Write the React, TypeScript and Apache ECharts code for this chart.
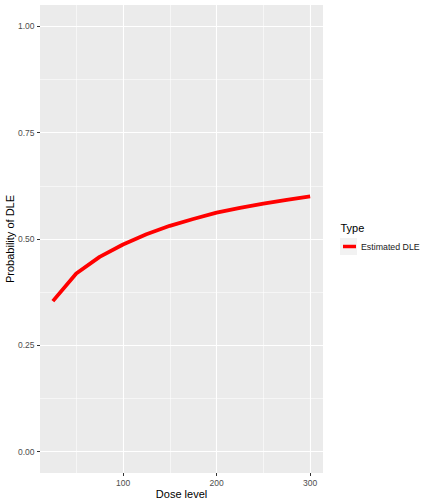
import React, { useEffect, useRef } from 'react';
import * as echarts from 'echarts';

const doses = [25, 50, 75, 100, 125, 150, 175, 200, 225, 250, 275, 300];
const estimatedDLE = [0.354, 0.419, 0.458, 0.487, 0.511, 0.531, 0.547, 0.562, 0.573, 0.583, 0.592, 0.6];
const xMajorTicks = [100, 200, 300];
const xMinorTicks = [50, 150, 250];
const yMajorTicks = [0, 0.25, 0.5, 0.75, 1];
const yMinorTicks = [0.125, 0.375, 0.625, 0.875];

const FONT = '"Liberation Sans", Arial, Helvetica, sans-serif';

const App: React.FC = () => {
  const chartRef = useRef<HTMLDivElement>(null);

  useEffect(() => {
    if (!chartRef.current) return;
    const chart = echarts.init(chartRef.current, null, { renderer: 'svg' });

    // ggplot-style expansion: 5% either side of the data range
    const xSpan = doses[doses.length - 1] - doses[0];
    const xMin = doses[0] - xSpan * 0.05;
    const xMax = doses[doses.length - 1] + xSpan * 0.05;

    const option: echarts.EChartsOption = {
      animation: false,
      textStyle: { fontFamily: FONT },
      grid: {
        left: 40,
        right: 109,
        top: 5,
        bottom: 31,
        show: true,
        backgroundColor: '#EBEBEB',
        borderWidth: 0,
        containLabel: false,
        outerBoundsMode: 'none',
      } as any,
      xAxis: [
        {
          type: 'value',
          min: xMin,
          max: xMax,
          name: 'Dose level',
          nameLocation: 'middle',
          nameGap: 15,
          nameMoveOverlap: false,
          nameTextStyle: { fontSize: 11, color: '#000', fontFamily: FONT },
          axisLine: { show: false, onZero: false },
          axisTick: { show: true, length: 3, customValues: xMajorTicks, lineStyle: { color: '#333', width: 1 } },
          axisLabel: { customValues: xMajorTicks, margin: 5, fontSize: 8.5, color: '#4D4D4D', fontFamily: FONT },
          splitLine: { show: true, lineStyle: { color: '#FFFFFF', width: 1.1 } },
        } as any,
        {
          type: 'value',
          gridIndex: 0,
          min: xMin,
          max: xMax,
          position: 'bottom',
          axisLine: { show: false, onZero: false },
          axisTick: { show: false, customValues: xMinorTicks },
          axisLabel: { show: false, customValues: xMinorTicks },
          splitLine: { show: true, lineStyle: { color: '#FFFFFF', width: 0.55 } },
        },
      ],
      yAxis: [
        {
          type: 'value',
          min: -0.05,
          max: 1.05,
          name: 'Probability of DLE',
          nameLocation: 'middle',
          nameGap: 25,
          nameMoveOverlap: false,
          nameTextStyle: { fontSize: 11, color: '#000', fontFamily: FONT },
          axisLine: { show: false, onZero: false },
          axisTick: { show: true, length: 3, customValues: yMajorTicks, lineStyle: { color: '#333', width: 1 } },
          axisLabel: {
            customValues: yMajorTicks,
            margin: 5.5,
            fontSize: 8.5,
            color: '#4D4D4D',
            fontFamily: FONT,
            formatter: (v: number) => v.toFixed(2),
          },
          splitLine: { show: true, lineStyle: { color: '#FFFFFF', width: 1.1 } },
        } as any,
        {
          type: 'value',
          gridIndex: 0,
          min: -0.05,
          max: 1.05,
          position: 'left',
          axisLine: { show: false, onZero: false },
          axisTick: { show: false, customValues: yMinorTicks },
          axisLabel: { show: false, customValues: yMinorTicks },
          splitLine: { show: true, lineStyle: { color: '#FFFFFF', width: 0.55 } },
        },
      ],
      legend: {
        left: 343,
        top: 240.5,
        padding: 0,
        icon: 'rect',
        itemWidth: 13,
        itemHeight: 3.5,
        itemGap: 0,
        textStyle: { fontSize: 8.8, color: '#1A1A1A', fontFamily: FONT, lineHeight: 12 },
        data: ['Estimated DLE'],
      },
      graphic: [
        {
          type: 'text',
          left: 340.5,
          top: 222,
          style: { text: 'Type', fontSize: 11, fill: '#000', fontFamily: FONT },
        },
        {
          type: 'rect',
          left: 340,
          top: 238,
          shape: { width: 17, height: 17 },
          style: { fill: '#F2F2F2' },
          z: -1,
        },
      ],
      series: [
        {
          name: 'Estimated DLE',
          type: 'line',
          xAxisIndex: 0,
          yAxisIndex: 0,
          data: doses.map((d, i) => [d, estimatedDLE[i]]),
          showSymbol: false,
          symbol: 'none',
          lineStyle: { color: '#FF0000', width: 3.8 },
          itemStyle: { color: '#FF0000' },
          emphasis: { disabled: true },
        },
      ],
    };

    chart.setOption(option);
    return () => {
      chart.dispose();
    };
  }, []);

  return (
    <div
      ref={chartRef}
      style={{ position: 'fixed', left: 0, top: 0, width: '432px', height: '504px', background: '#fff' }}
    />
  );
};

export default App;
